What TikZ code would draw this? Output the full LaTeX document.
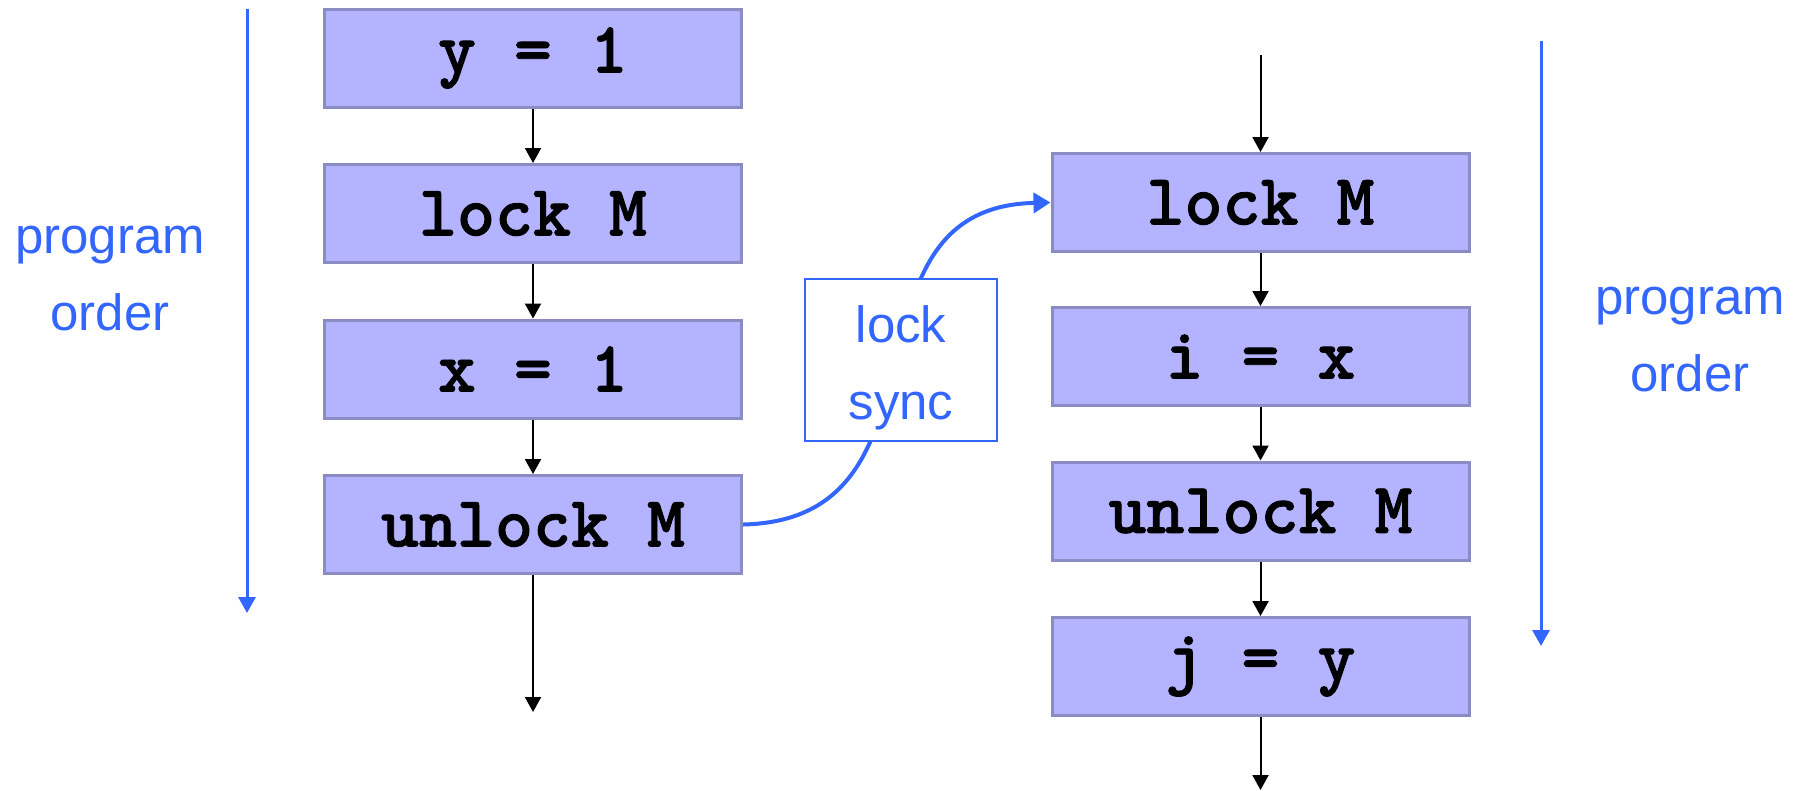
\documentclass[tikz,border=0pt]{standalone}
\usepackage{fontspec}
\setmainfont{Liberation Sans}
\newfontfamily\codefont{Latin Modern Mono Light}[BoldFeatures={FakeBold=1.2}]
\usetikzlibrary{arrows.meta}
\definecolor{boxfill}{HTML}{B3B3FF}
\definecolor{boxline}{HTML}{8C8CC4}
\definecolor{po}{HTML}{3366FF}
\begin{document}
\begin{tikzpicture}[x=1cm,y=1cm,
 stmt/.style={draw=boxline, fill=boxfill, line width=0.03cm, minimum width=4.17cm, minimum height=0.98cm, inner sep=0pt, font=\fontsize{20.6}{22}\selectfont\codefont\bfseries},
 flow/.style={draw=black, line width=0.02cm, -{Triangle[width=0.16cm,length=0.15cm]}},
 ord/.style={draw=po, line width=0.03cm, -{Triangle[width=0.17cm,length=0.16cm]}},
 lbl/.style={text=po, align=center, font=\fontsize{14.5}{21.9}\selectfont, inner sep=0pt}]
\useasboundingbox (0,0) rectangle (18.05,-7.9);

% left thread
\node[stmt] (l1) at (5.33,-0.58) {y = 1};
\node[stmt] (l2) at (5.33,-2.135) {lock M};
\node[stmt] (l3) at (5.33,-3.69) {x = 1};
\node[stmt] (l4) at (5.33,-5.245) {unlock M};
\coordinate (lend) at (5.33,-7.12);
\draw[flow] (l1) -- (l2);
\draw[flow] (l2) -- (l3);
\draw[flow] (l3) -- (l4);
\draw[flow] (l4) -- (lend);

% right thread
\coordinate (rstart) at (12.605,-0.55);
\node[stmt] (r1) at (12.605,-2.025) {lock M};
\node[stmt] (r2) at (12.605,-3.565) {i = x};
\node[stmt] (r3) at (12.605,-5.11) {unlock M};
\node[stmt] (r4) at (12.605,-6.665) {j = y};
\coordinate (rend) at (12.605,-7.9);
\draw[flow] (rstart) -- (r1);
\draw[flow] (r1) -- (r2);
\draw[flow] (r2) -- (r3);
\draw[flow] (r3) -- (r4);
\draw[flow] (r4) -- (rend);

% lock synchronization
\draw[po, line width=0.04cm, -{Triangle[width=0.2cm,length=0.17cm]}]
  (l4.east) .. controls +(2.2,0.05) and +(-2.2,-0.05) .. (r1.west);
\node[draw=po, fill=white, line width=0.015cm, minimum width=1.92cm, minimum height=1.62cm,
      text=po, align=center, font=\fontsize{14.5}{21.9}\selectfont, inner sep=0pt]
  (sync) at (9.01,-3.6) {\rule{0pt}{0.53cm}lock\\sync};

% program order arrows
\coordinate (lpoa) at (2.47,-0.09);
\coordinate (lpob) at (2.47,-6.13);
\draw[ord] (lpoa) -- (lpob);
\node[lbl, anchor=base] (lpo) at (1.10,-3.30) {program\\order};

\coordinate (rpoa) at (15.41,-0.41);
\coordinate (rpob) at (15.41,-6.46);
\draw[ord] (rpoa) -- (rpob);
\node[lbl, anchor=base] (rpo) at (16.90,-3.91) {program\\order};
\end{tikzpicture}
\end{document}
